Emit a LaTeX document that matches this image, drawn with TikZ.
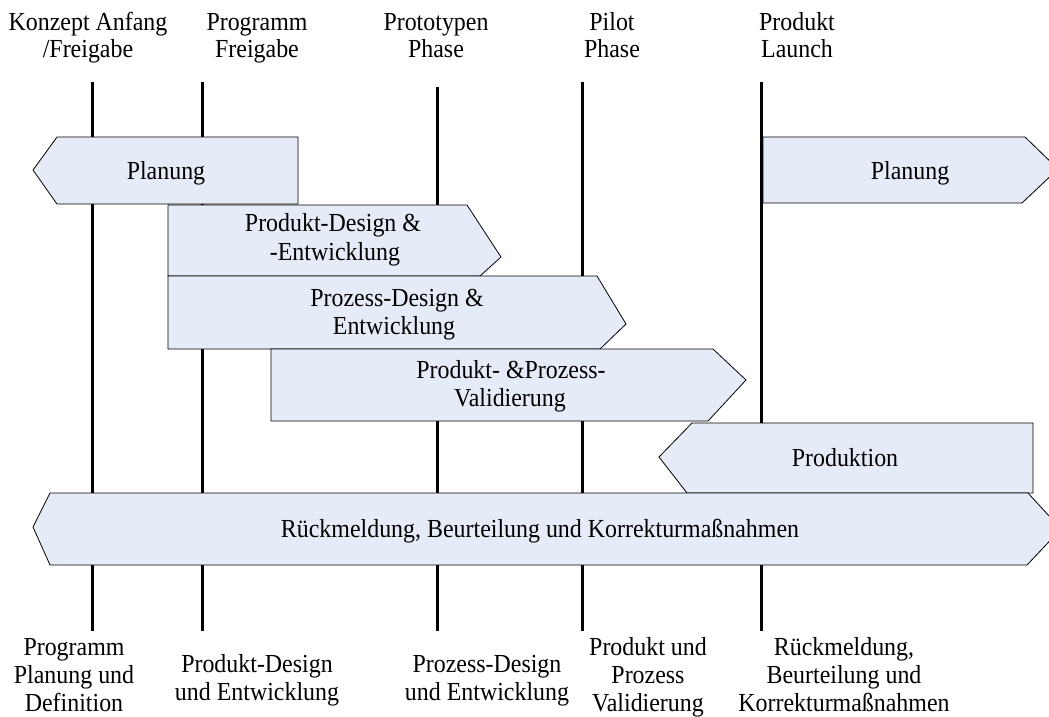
\documentclass[tikz,border=0pt]{standalone}
\usepackage{fontspec}
\setmainfont{Liberation Serif}[FakeStretch=0.92]
\definecolor{phasefill}{RGB}{230,236,247}
\begin{document}
\begin{tikzpicture}[x=1pt,y=-1pt,
  phase/.style={draw=black, line width=0.8pt, fill=phasefill, line join=miter},
  milestone/.style={line width=3pt},
  lbl/.style={anchor=base, inner sep=0pt, font=\fontsize{26}{28}\selectfont},
]
\useasboundingbox (0,0) rectangle (1049,716);
\clip (0,0) rectangle (1049,716);

% milestone lines (behind the phase bars)
\foreach \n/\x/\t in {m1/92/82, m2/202/82, m3/437/87, m4/582/82, m5/761/82} {
  \coordinate (\n top) at (\x,\t);
  \coordinate (\n bot) at (\x,631);
  \draw[milestone] (\n top) -- (\n bot);
}

% phase bars
\draw[phase] (33,170) -- (57,137) -- (298,137) -- (298,204) -- (57,204) -- cycle;
\draw[phase] (763,137) -- (1025,137) -- (1058,169) -- (1022,203) -- (763,203) -- cycle;
\draw[phase] (168,205) -- (467,205) -- (501,257) -- (480,276) -- (168,276) -- cycle;
\draw[phase] (168,276) -- (597,276) -- (626,324) -- (600,349) -- (168,349) -- cycle;
\draw[phase] (271,349) -- (713,349) -- (746,380) -- (708,421) -- (271,421) -- cycle;
\draw[phase] (659,457) -- (692,423) -- (1033,423) -- (1033,493) -- (687,493) -- cycle;
\draw[phase] (33,527) -- (50,493) -- (1028,493) -- (1061,529) -- (1027,565) -- (50,565) -- cycle;

% bar labels
\node[lbl] (planA) at (166,179) {Planung};
\node[lbl] (planB) at (910,179) {Planung};
\node[lbl] (pdA) at (333,231) {Produkt-Design \&};
\node[lbl] (pdB) at (335,260) {-Entwicklung};
\node[lbl] (prA) at (397,306) {Prozess-Design \&};
\node[lbl] (prB) at (394,334) {Entwicklung};
\node[lbl] (vaA) at (511,378) {Produkt- \&Prozess-};
\node[lbl] (vaB) at (510,406) {Validierung};
\node[lbl] (prod) at (845,466) {Produktion};
\node[lbl] (feed) at (540,537) {Rückmeldung, Beurteilung und Korrekturmaßnahmen};

% milestone titles
\node[lbl] (t1a) at (88,30) {Konzept Anfang};
\node[lbl] (t1b) at (88,57) {/Freigabe};
\node[lbl] (t2a) at (257,30) {Programm};
\node[lbl] (t2b) at (257,57) {Freigabe};
\node[lbl] (t3a) at (436,30) {Prototypen};
\node[lbl] (t3b) at (436,57) {Phase};
\node[lbl] (t4a) at (612,30) {Pilot};
\node[lbl] (t4b) at (612,57) {Phase};
\node[lbl] (t5a) at (797,30) {Produkt};
\node[lbl] (t5b) at (797,57) {Launch};

% stage descriptions
\node[lbl] (s1a) at (74,655) {Programm};
\node[lbl] (s1b) at (74,683) {Planung und};
\node[lbl] (s1c) at (74,711) {Definition};
\node[lbl] (s2a) at (257,672) {Produkt-Design};
\node[lbl] (s2b) at (257,700) {und Entwicklung};
\node[lbl] (s3a) at (487,672) {Prozess-Design};
\node[lbl] (s3b) at (487,700) {und Entwicklung};
\node[lbl] (s4a) at (648,655) {Produkt und};
\node[lbl] (s4b) at (648,683) {Prozess};
\node[lbl] (s4c) at (648,711) {Validierung};
\node[lbl] (s5a) at (844,655) {Rückmeldung,};
\node[lbl] (s5b) at (844,683) {Beurteilung und};
\node[lbl] (s5c) at (844,711) {Korrekturmaßnahmen};
\end{tikzpicture}
\end{document}
